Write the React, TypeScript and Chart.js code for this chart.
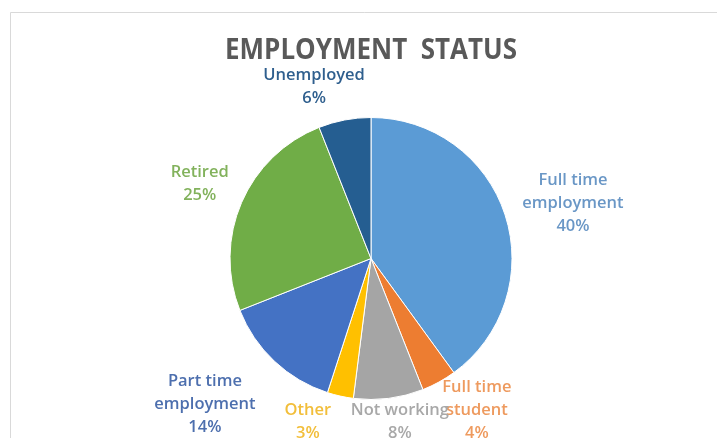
import { useEffect, useRef } from "react";
import { Chart, registerables } from "chart.js";

Chart.register(...registerables);

// ---- data ----
const categories = [
  "Full time employment",
  "Full time student",
  "Not working",
  "Other",
  "Part time employment",
  "Retired",
  "Unemployed",
];
const values = [40, 4, 8, 3, 14, 25, 6];
const labelLines = [
  ["Full time", "employment"],
  ["Full time", "student"],
  ["Not working"],
  ["Other"],
  ["Part time", "employment"],
  ["Retired"],
  ["Unemployed"],
];
const chartTitle = "EMPLOYMENT  STATUS";

// ---- styles ----
const sliceColors = ["#5B9BD5", "#ED7D31", "#A5A5A5", "#FFC000", "#4472C4", "#70AD47", "#255E91"];
const labelColors = ["#6A97C6", "#EE9A5E", "#A8A8A8", "#F2BE3A", "#4D6FAE", "#82B25C", "#2F5F8E"];
// label placement relative to each slice: angular shift (deg) from slice middle, gap beyond the rim (px)
const labelAngleShift = [2.5, -6.4, -2.9, 8.7, 5.7, 0.6, -7.4];
const labelGap = [68.6, 42.7, 23.6, 32.8, 79.4, 46.5, 41.1];

const W = 717;
const H = 438;

const decorPlugin = {
  id: "decor",
  beforeDraw(chart: any) {
    const ctx = chart.ctx;
    ctx.save();
    ctx.fillStyle = "#FFFFFF";
    ctx.fillRect(0, 0, W, H);
    ctx.strokeStyle = "#D9D9D9";
    ctx.lineWidth = 1;
    ctx.beginPath();
    ctx.moveTo(10.5, H + 2);
    ctx.lineTo(10.5, 12.5);
    ctx.lineTo(W + 2, 12.5);
    ctx.stroke();
    ctx.restore();
  },
  afterDraw(chart: any) {
    const ctx = chart.ctx;
    // title
    ctx.save();
    ctx.font = "bold 28px 'Open Sans'";
    ctx.fillStyle = "#595959";
    ctx.textAlign = "center";
    ctx.textBaseline = "alphabetic";
    const w = ctx.measureText(chartTitle).width;
    ctx.translate(371, 59);
    ctx.scale(292 / w, 1);
    ctx.fillText(chartTitle, 0, 0);
    ctx.restore();

    // data labels
    const meta = chart.getDatasetMeta(0);
    const total = values.reduce((a, b) => a + b, 0);
    ctx.save();
    ctx.font = "600 16.5px 'Open Sans'";
    ctx.textAlign = "center";
    ctx.textBaseline = "alphabetic";
    const lh = 23;
    meta.data.forEach((arc: any, i: number) => {
      const p = arc.getProps(["x", "y", "startAngle", "endAngle", "outerRadius"], true);
      const a = (p.startAngle + p.endAngle) / 2 + (labelAngleShift[i] * Math.PI) / 180;
      const d = p.outerRadius + labelGap[i];
      const cx = p.x + Math.cos(a) * d;
      const cy = p.y + Math.sin(a) * d;
      const lines = [...labelLines[i], Math.round((values[i] / total) * 100) + "%"];
      const y0 = cy - ((lines.length - 1) * lh) / 2;
      ctx.fillStyle = labelColors[i];
      lines.forEach((t, k) => ctx.fillText(t, cx, y0 + k * lh + 6));
    });
    ctx.restore();
  },
};

export default function App() {
  const ref = useRef<HTMLCanvasElement | null>(null);
  useEffect(() => {
    document.body.style.margin = "0";
    if (!ref.current) return;
    const chart = new Chart(ref.current, {
      type: "pie",
      data: {
        labels: categories,
        datasets: [
          {
            data: values,
            backgroundColor: sliceColors,
            borderColor: "#FFFFFF",
            borderWidth: 1,
            hoverOffset: 0,
          },
        ],
      },
      options: {
        responsive: false,
        animation: false,
        events: [],
        layout: { padding: { top: 117, bottom: 38, left: 25, right: 0 } },
        plugins: {
          legend: { display: false },
          tooltip: { enabled: false },
          title: { display: false },
        },
      },
      plugins: [decorPlugin],
    });
    return () => chart.destroy();
  }, []);
  return (
    <div style={{ width: W, height: H, background: "#fff" }}>
      <canvas ref={ref} width={W} height={H} style={{ display: "block" }} />
    </div>
  );
}
